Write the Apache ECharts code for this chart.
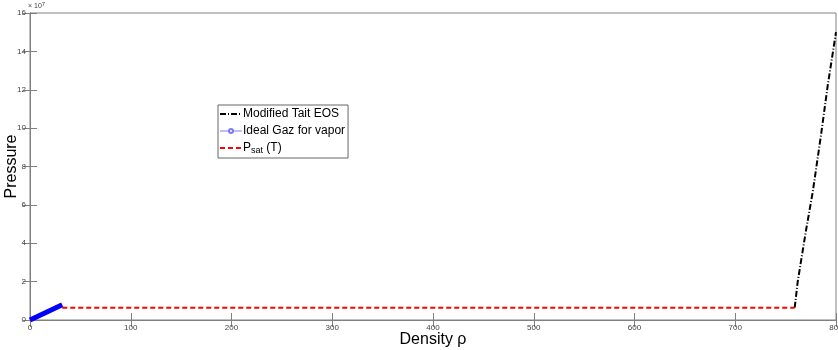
<!DOCTYPE html>
<html><head><meta charset="utf-8">
<script src="https://cdn.jsdelivr.net/npm/echarts@6/dist/echarts.min.js"></script>
<style>html,body{margin:0;padding:0;background:#fff}#c{width:838px;height:350px}</style>
</head><body><div id="c"></div>
<script>
// Data (pressure in units of 1e7)
const taitX = [759, 762, 770, 777, 785, 792, 800];
const taitY = [0.64, 2.0, 4.6, 6.7, 9.6, 12.3, 15.0];
const gasX = [0, 32];
const gasY = [0, 0.8];
const psatX = [32, 759];
const psatY = [0.64, 0.64];
const xTicks = [0, 100, 200, 300, 400, 500, 600, 700, 800];
const yTicks = [0, 2, 4, 6, 8, 10, 12, 14, 16];

const axisColor = '#808080';
const labelStyle = {color: '#444', fontSize: 8, fontFamily: 'Liberation Sans, Arial'};
const chart = echarts.init(document.getElementById('c'), null, {renderer: 'canvas'});
const zip = (a, b) => a.map((v, i) => [v, b[i]]);
const hidden = {color: 'rgba(0,0,0,0)', borderWidth: 0, opacity: 0};
chart.setOption({
  animation: false,
  grid: {left: 30, right: 2, top: 13, bottom: 30, containLabel: false, outerBoundsMode: 'none',
    show: true, borderColor: axisColor, borderWidth: 1},
  xAxis: [{
    type: 'value', min: xTicks[0], max: xTicks[xTicks.length - 1], interval: 100,
    axisLine: {show: true, lineStyle: {color: axisColor}},
    axisTick: {show: true, inside: true, length: 7, lineStyle: {color: axisColor}},
    axisLabel: Object.assign({margin: 4, showMaxLabel: true}, labelStyle),
    splitLine: {show: false},
    name: 'Density ρ', nameLocation: 'middle', nameGap: 12, nameMoveOverlap: false,
    nameTextStyle: {fontSize: 16, color: '#000', fontFamily: 'Liberation Sans, Arial'}
  }, {
    type: 'value', position: 'top', min: 0, max: 800, interval: 100,
    axisLine: {show: true, lineStyle: {color: axisColor}},
    axisTick: {show: true, inside: true, length: 7, lineStyle: {color: axisColor}},
    axisLabel: {show: false}, splitLine: {show: false}
  }],
  yAxis: [{
    type: 'value', min: yTicks[0], max: yTicks[yTicks.length - 1], interval: 2,
    axisLine: {show: true, lineStyle: {color: axisColor}},
    axisTick: {show: true, inside: true, length: 7, lineStyle: {color: axisColor}},
    axisLabel: Object.assign({margin: 4}, labelStyle),
    splitLine: {show: false},
    name: 'Pressure', nameLocation: 'middle', nameGap: 10, nameRotate: 90, nameMoveOverlap: false,
    nameTextStyle: {fontSize: 16, color: '#000', fontFamily: 'Liberation Sans, Arial'}
  }, {
    type: 'value', position: 'right', min: 0, max: 16, interval: 2,
    axisLine: {show: true, lineStyle: {color: axisColor}},
    axisTick: {show: true, inside: true, length: 7, lineStyle: {color: axisColor}},
    axisLabel: {show: false}, splitLine: {show: false}
  }],
  legend: {
    orient: 'vertical', left: 218, top: 105, itemGap: 3, itemWidth: 22, itemHeight: 5,
    padding: [2, 3, 3, 1], borderColor: '#666', borderWidth: 1, backgroundColor: '#fff', borderRadius: 0,
    textStyle: {fontSize: 12, color: '#000', fontFamily: 'Liberation Sans, Arial', padding: [0, 0, 0, -4], lineHeight: 14,
      rich: {sub: {fontSize: 9, verticalAlign: 'bottom', padding: [8, 0, 0, 0], fontFamily: 'Liberation Sans, Arial'}}},
    formatter: function (n) { return n === 'Psat' ? 'P{sub|sat} (T)' : n; },
    data: [
      {name: 'Modified Tait EOS', itemStyle: hidden},
      {name: 'Ideal Gaz for vapor', lineStyle: {width: 1, color: '#7b7bff', type: 'solid'},
        itemStyle: {color: '#7b7bff', borderColor: '#7b7bff', borderWidth: 1}},
      {name: 'Psat', itemStyle: hidden}
    ]
  },
  series: [{
    name: 'Modified Tait EOS', type: 'line', data: zip(taitX, taitY), showSymbol: false, symbol: 'none',
    lineStyle: {color: '#000', width: 2, type: [6, 2, 1, 2]}, itemStyle: {color: '#000'}
  }, {
    name: 'Ideal Gaz for vapor', type: 'line', data: zip(gasX, gasY), symbol: 'emptyCircle', symbolSize: 4, showSymbol: false,
    lineStyle: {color: '#0000ff', width: 5}, itemStyle: {color: '#7b7bff'}
  }, {
    name: 'Psat', type: 'line', data: zip(psatX, psatY), showSymbol: false, symbol: 'none',
    lineStyle: {color: '#ff0000', width: 2, type: [5, 3]}, itemStyle: {color: '#ff0000'}
  }],
  graphic: [{
    type: 'text', left: 28, top: 1,
    style: {text: '× 10{s|7}', fill: '#444', font: '7px Liberation Sans, Arial',
      rich: {s: {fontSize: 6, verticalAlign: 'top', padding: [0, 0, 4, 0]}}}
  }]
});
</script></body></html>
